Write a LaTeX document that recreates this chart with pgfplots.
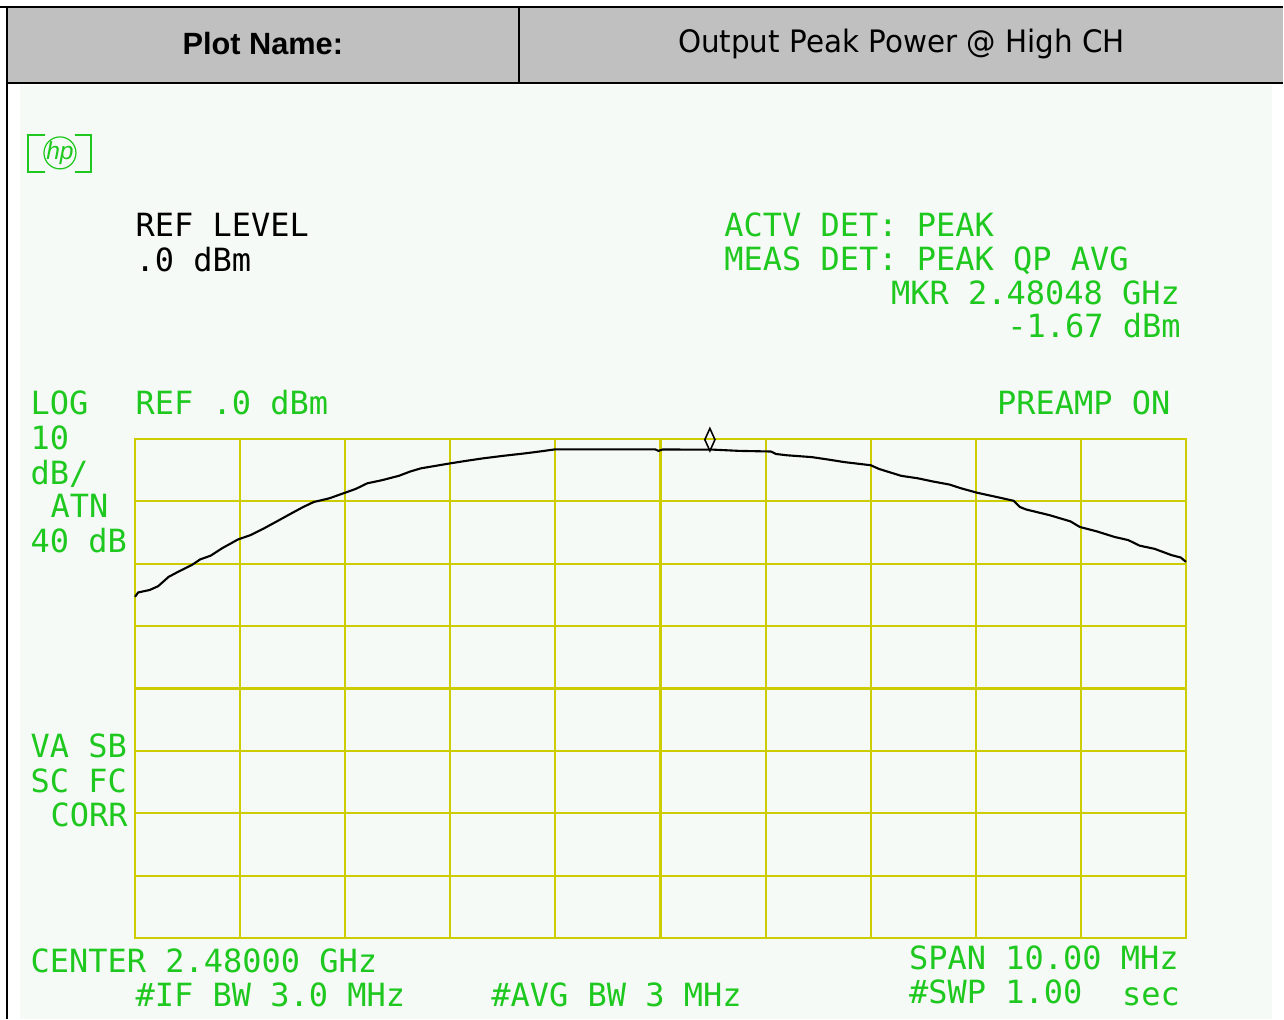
\documentclass[border=0pt]{standalone}
\usepackage{pgfplots}
\pgfplotsset{compat=1.18}
\usepackage{fontspec}
\setmainfont{Liberation Sans}
\newfontfamily\crt{DejaVu Sans Mono}
\newfontfamily\tah{DejaVu Sans}

\definecolor{crtgreen}{RGB}{30,200,30}
\definecolor{gridyel}{RGB}{204,204,0}
\definecolor{screenbg}{RGB}{245,250,247}
\definecolor{hdrgray}{RGB}{192,192,192}

% spectrum analyser trace: frequency (GHz), level (dBm)
\pgfplotstableread{
f        p
2.47500  -25.3
2.47503  -24.6
2.47514  -24.2
2.47522  -23.6
2.47532  -22.1
2.47542  -21.2
2.47554  -20.2
2.47562  -19.3
2.47572  -18.7
2.47583  -17.5
2.47598  -16.1
2.47610  -15.4
2.47623  -14.3
2.47635  -13.2
2.47649  -11.9
2.47660  -10.9
2.47670  -10.1
2.47685  -9.5
2.47700  -8.6
2.47710  -8.0
2.47721  -7.1
2.47735  -6.6
2.47751  -5.9
2.47762  -5.2
2.47772  -4.7
2.47786  -4.3
2.47800  -3.9
2.47815  -3.5
2.47831  -3.1
2.47850  -2.7
2.47871  -2.3
2.47885  -2.0
2.47900  -1.65
2.47950  -1.65
2.47995  -1.65
2.47998  -1.9
2.48002  -1.68
2.48050  -1.7
2.48075  -1.9
2.48105  -2.0
2.48110  -2.4
2.48120  -2.6
2.48144  -2.9
2.48160  -3.3
2.48175  -3.7
2.48200  -4.2
2.48208  -4.8
2.48229  -5.9
2.48245  -6.3
2.48259  -6.8
2.48275  -7.3
2.48286  -7.9
2.48301  -8.6
2.48320  -9.3
2.48336  -9.9
2.48342  -10.9
2.48348  -11.3
2.48370  -12.2
2.48390  -13.2
2.48399  -14.1
2.48415  -14.8
2.48432  -15.7
2.48445  -16.2
2.48456  -17.1
2.48470  -17.6
2.48486  -18.6
2.48495  -19.0
2.48500  -19.7
}\trace

\begin{document}
\begin{tikzpicture}
\path[use as bounding box] (0,0) rectangle (12.84cm,-10.20cm);
\begin{scope}[x=0.01cm,y=-0.01cm]
  % header row of the table
  \fill[hdrgray] (7,7) rectangle (1284,83);
  \draw[line width=0.6pt] (0,7) -- (1284,7);
  \draw[line width=0.6pt] (7,83) -- (1284,83);
  \draw[line width=0.6pt] (519,7) -- (519,83);
  \draw[line width=0.7pt] (7,6) -- (7,1020);
  \node[anchor=center,inner sep=0] at (263,44)
    {\fontsize{8.74}{10}\selectfont\bfseries Plot Name:};
  \node[anchor=center,inner sep=0,xscale=0.95] at (902,44)
    {\tah\fontsize{8.8}{10}\selectfont Output Peak Power @ High CH};
  % screen background
  \fill[screenbg] (20,85) rectangle (1273,1020);
  % hp logo
  \draw[crtgreen,line width=0.35pt] (28,135) rectangle (91,172);
  \fill[screenbg] (45,134) rectangle (75,173);
  \draw[crtgreen,line width=0.35pt] (60,153) circle (16);
  \node[crtgreen,inner sep=0] at (60,153)
    {\fontsize{7}{7}\selectfont\itshape hp};
\end{scope}

\begin{axis}[
    at={(1.35cm,-9.38cm)}, anchor=south west,
    scale only axis,
    width=10.51cm, height=4.99cm,
    xmin=2.475, xmax=2.485, ymin=-80, ymax=0,
    xtick={2.476,2.477,2.478,2.479,2.480,2.481,2.482,2.483,2.484},
    ytick={-70,-60,-50,-40,-30,-20,-10},
    xticklabels={}, yticklabels={},
    major tick length=0pt,
    grid=major,
    major grid style={gridyel,line width=0.6pt},
    axis line style={gridyel,line width=0.6pt},
    axis background/.style={fill=screenbg},
    clip=false,
]
\addplot[black,line width=0.6pt] table[x=f,y=p] {\trace};
\addplot[only marks,mark=diamond,mark size=3.2pt,
  mark options={draw=black,fill=screenbg,line width=0.45pt,xscale=0.6}]
  coordinates {(2.48047,-0.1)};
\end{axis}

\begin{scope}[x=0.01cm,y=-0.01cm,
    every node/.style={inner sep=0,anchor=base west,font=\crt\fontsize{9.1}{10}\selectfont}]
  \node[black] at (135,237) {REF LEVEL};
  \node[black] at (135,272) {.0 dBm};
  \node[crtgreen] at (724,237) {ACTV DET: PEAK};
  \node[crtgreen] at (724,271) {MEAS DET: PEAK QP AVG};
  \node[crtgreen] at (891,305) {MKR 2.48048 GHz};
  \node[crtgreen,anchor=base east] at (1182,338) {-1.67 dBm};
  \node[crtgreen] at (997,415) {PREAMP ON};
  \node[crtgreen] at (30,415) {LOG};
  \node[crtgreen] at (135,415) {REF .0 dBm};
  \node[crtgreen] at (30,450) {10};
  \node[crtgreen] at (30,485) {dB/};
  \node[crtgreen] at (50,518) {ATN};
  \node[crtgreen] at (30,553) {40 dB};
  \node[crtgreen] at (30,758) {VA SB};
  \node[crtgreen] at (30,793) {SC FC};
  \node[crtgreen] at (50,827) {CORR};
  \node[crtgreen] at (30,973) {CENTER 2.48000 GHz};
  \node[crtgreen] at (909,970) {SPAN 10.00 MHz};
  \node[crtgreen] at (135,1007) {\#IF BW 3.0 MHz};
  \node[crtgreen] at (491,1007) {\#AVG BW 3 MHz};
  \node[crtgreen] at (909,1004) {\#SWP 1.00};
  \node[crtgreen] at (1122,1006) {sec};
\end{scope}
\end{tikzpicture}
\end{document}
